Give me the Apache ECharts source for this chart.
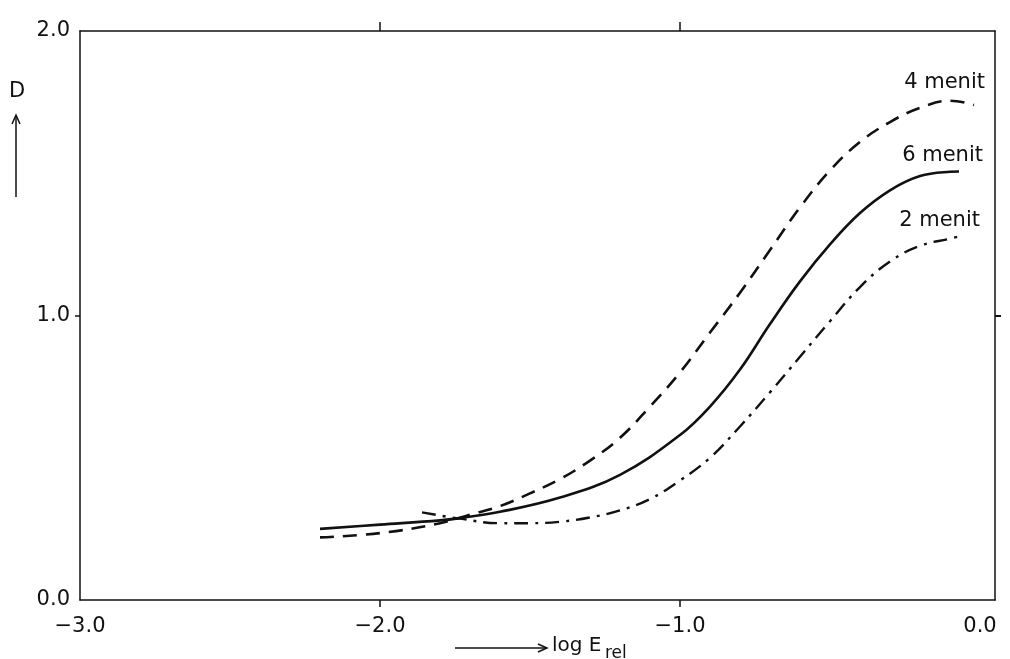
<!DOCTYPE html>
<html>
<head>
<meta charset="utf-8">
<script src="https://cdn.jsdelivr.net/npm/echarts@6/dist/echarts.min.js"></script>
<style>
html,body{margin:0;padding:0;background:#fff;}
#chart{width:1010px;height:659px;}
</style>
</head>
<body>
<div id="chart"></div>
<script>
// log E_rel values and densities D
let x4=[-2.2,-2.0,-1.8,-1.7,-1.6,-1.5,-1.4,-1.3,-1.2,-1.1,-1.0,-0.9,-0.8,-0.7,-0.6,-0.5,-0.4,-0.3,-0.2,-0.1,-0.02];
let d4=[0.22,0.235,0.27,0.30,0.33,0.375,0.425,0.49,0.57,0.68,0.80,0.94,1.08,1.23,1.38,1.51,1.61,1.68,1.73,1.755,1.74];

let x6=[-2.2,-2.0,-1.8,-1.74,-1.6,-1.4,-1.2,-1.0,-0.9,-0.8,-0.7,-0.6,-0.5,-0.4,-0.3,-0.2,-0.1,-0.07];
let d6=[0.25,0.265,0.28,0.287,0.31,0.36,0.44,0.58,0.68,0.81,0.97,1.12,1.25,1.36,1.44,1.49,1.505,1.506];

let x2=[-1.86,-1.74,-1.6,-1.5,-1.4,-1.3,-1.2,-1.1,-1.0,-0.9,-0.8,-0.7,-0.6,-0.5,-0.4,-0.3,-0.2,-0.1,-0.07];
let d2=[0.308,0.287,0.27,0.27,0.275,0.29,0.315,0.355,0.42,0.50,0.61,0.73,0.855,0.98,1.10,1.19,1.245,1.27,1.278];

let xTicks=[-2,-1];
let yTicks=[1];
let names=["4 menit","6 menit","2 menit"];

function pairs(xs,ys){
	return xs.map(function(v,i){return [v,ys[i]];});
}
function fmt(v){
	if(Math.abs(v-Math.round(v))>1e-6) return "";
	let s=Math.abs(v).toFixed(1);
	return v<0?"\u2212"+s:s;
}

let font="DejaVu Sans";
let ink="#111";
let chart=echarts.init(document.getElementById('chart'));

chart.setOption({
	animation:false,
	backgroundColor:"#fff",
	grid:{left:80,right:15,top:31,bottom:59},
	xAxis:[{
		type:"value",
		min:-3,
		max:0.05,
		interval:1,
		splitLine:{show:false},
		axisLine:{onZero:false,lineStyle:{color:ink,width:1.5}},
		axisTick:{customValues:xTicks,inside:false,length:7,lineStyle:{color:ink,width:1.5}},
		axisLabel:{customValues:[-3,-2,-1,0],formatter:fmt,color:ink,fontFamily:font,fontSize:21,margin:16},
	},{
		type:"value",
		position:"top",
		min:-3,
		max:0.05,
		interval:1,
		splitLine:{show:false},
		axisLine:{onZero:false,lineStyle:{color:ink,width:1.5}},
		axisTick:{customValues:xTicks,length:9,lineStyle:{color:ink,width:1.5}},
		axisLabel:{show:false},
	}],
	yAxis:[{
		type:"value",
		min:0,
		max:2,
		interval:1,
		splitLine:{show:false},
		axisLine:{show:true,onZero:false,lineStyle:{color:ink,width:1.5}},
		axisTick:{show:true,customValues:yTicks,length:5,lineStyle:{color:ink,width:1.5}},
		axisLabel:{formatter:fmt,color:ink,fontFamily:font,fontSize:21,margin:10},
	},{
		type:"value",
		position:"right",
		min:0,
		max:2,
		interval:1,
		splitLine:{show:false},
		axisLine:{show:true,onZero:false,lineStyle:{color:ink,width:1.5}},
		axisTick:{show:true,customValues:yTicks,length:6,lineStyle:{color:ink,width:2}},
		axisLabel:{show:false},
	}],
	series:[{
		name:names[0],
		type:"line",
		data:pairs(x4,d4),
		smooth:0.4,
		showSymbol:false,
		lineStyle:{color:ink,width:2.6,type:[14,9]},
	},{
		name:names[1],
		type:"line",
		data:pairs(x6,d6),
		smooth:0.4,
		showSymbol:false,
		lineStyle:{color:ink,width:2.6},
	},{
		name:names[2],
		type:"line",
		data:pairs(x2,d2),
		smooth:0.4,
		showSymbol:false,
		lineStyle:{color:ink,width:2.4,type:[14,7,3,7]},
	}],
	graphic:[
		{type:"text",right:25,top:72,style:{text:names[0],font:"21px '"+font+"'",fill:ink}},
		{type:"text",right:27,top:145,style:{text:names[1],font:"21px '"+font+"'",fill:ink}},
		{type:"text",right:30,top:210,style:{text:names[2],font:"21px '"+font+"'",fill:ink}},
		{type:"text",left:9,top:81,style:{text:"D",font:"21px '"+font+"'",fill:ink}},
		{type:"line",shape:{x1:16,y1:197,x2:16,y2:116},style:{stroke:ink,lineWidth:1.5}},
		{type:"polyline",shape:{points:[[12,124],[16,115],[20,124]]},style:{stroke:ink,lineWidth:1.5,fill:null}},
		{type:"line",shape:{x1:455,y1:648,x2:546,y2:648},style:{stroke:ink,lineWidth:1.5}},
		{type:"polyline",shape:{points:[[538,644],[547,648],[538,652]]},style:{stroke:ink,lineWidth:1.5,fill:null}},
		{type:"text",left:552,top:636,style:{text:"log E",font:"20px '"+font+"'",fill:ink}},
		{type:"text",left:605,top:645,style:{text:"rel",font:"17px '"+font+"'",fill:ink}},
	],
});
</script>
</body>
</html>
